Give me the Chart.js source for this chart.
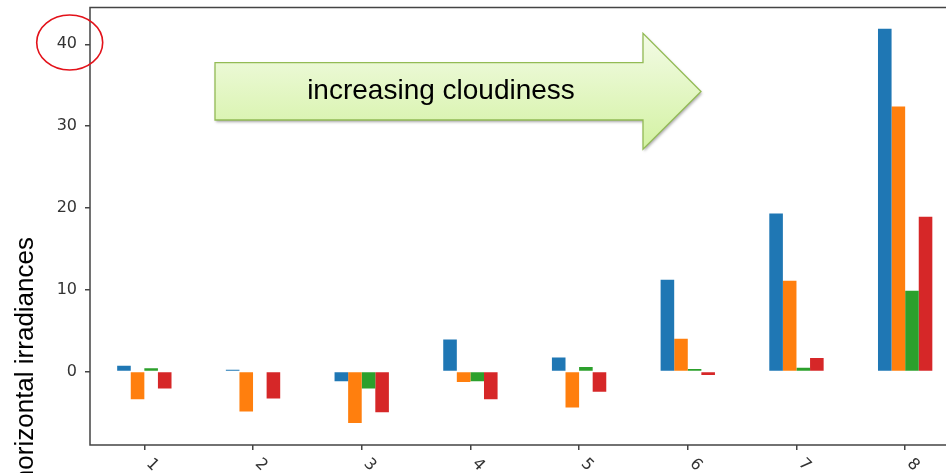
<!DOCTYPE html>
<html>
<head>
<meta charset="utf-8">
<script src="https://cdn.jsdelivr.net/npm/chart.js@4.4.1/dist/chart.umd.min.js"></script>
<style>
  html, body { margin: 0; padding: 0; background: #ffffff; overflow: hidden; }
  #wrap { width: 946px; height: 473px; overflow: hidden; position: relative; }
  canvas { display: block; }
</style>
</head>
<body>
<div id="wrap"><canvas id="chart" width="980" height="473"></canvas></div>
<script>
// Categories (cases 1..8) and the four series of differences
const categories = ['1', '2', '3', '4', '5', '6', '7', '8'];
const seriesBlue   = [0.7, 0.2, -1.2, 3.9, 1.7, 11.2, 19.3, 41.9];
const seriesOrange = [-3.4, -4.9, -6.3, -1.3, -4.4, 4.0, 11.1, 32.4];
const seriesGreen  = [0.4, 0.0, -2.1, -1.2, 0.55, 0.3, 0.45, 9.85];
const seriesRed    = [-2.1, -3.3, -5.0, -3.4, -2.5, -0.45, 1.65, 18.9];
const yTicks = [0, 10, 20, 30, 40];

const yTitle = 'horizontal irradiances';
const arrowText = 'increasing cloudiness';

const AXIS_COLOR = '#444444';
const TICK_FONT = { family: 'DejaVu Sans', size: 16 };

// Frame (left, top, bottom spines) plus the rotated x labels
const framePlugin = {
  id: 'frame',
  afterDraw(chart) {
    const { ctx, chartArea: a } = chart;
    ctx.save();
    ctx.strokeStyle = AXIS_COLOR;
    ctx.lineWidth = 1.5;
    ctx.beginPath();
    ctx.moveTo(a.right, a.top);
    ctx.lineTo(a.left, a.top);
    ctx.lineTo(a.left, a.bottom);
    ctx.lineTo(a.right, a.bottom);
    ctx.stroke();

    // x tick labels, turned 45 degrees clockwise
    const xs = chart.scales.x;
    ctx.fillStyle = '#333333';
    ctx.font = `${TICK_FONT.size}px ${TICK_FONT.family}`;
    ctx.textAlign = 'center';
    ctx.textBaseline = 'middle';
    categories.forEach((lab, i) => {
      const px = xs.getPixelForTick(i);
      ctx.save();
      ctx.translate(px + 8, a.bottom + 20);
      ctx.rotate(Math.PI / 4);
      ctx.fillText(lab, 0, 0);
      ctx.restore();
    });
    ctx.restore();
  }
};

// Annotations: y title, circled tick, and the cloudiness arrow
const annotationPlugin = {
  id: 'annotations',
  afterDraw(chart) {
    const { ctx } = chart;
    ctx.save();

    // y axis title
    ctx.save();
    ctx.translate(33, 237);
    ctx.rotate(-Math.PI / 2);
    ctx.font = '26px "Liberation Sans", Arial, sans-serif';
    ctx.fillStyle = '#000000';
    ctx.textAlign = 'left';
    ctx.textBaseline = 'alphabetic';
    ctx.fillText(yTitle, -ctx.measureText(yTitle).width, 0);
    ctx.restore();

    // red ellipse around the top tick label
    ctx.beginPath();
    ctx.ellipse(69.7, 42.5, 33, 27.5, 0, 0, Math.PI * 2);
    ctx.strokeStyle = '#e3121a';
    ctx.lineWidth = 1.6;
    ctx.stroke();

    // arrow shape
    const bodyL = 215, bodyT = 62.7, bodyB = 120;
    const headX = 643, headT = 33.3, headB = 149.3, tipX = 701, tipY = 91.5;
    ctx.beginPath();
    ctx.moveTo(bodyL, bodyT);
    ctx.lineTo(headX, bodyT);
    ctx.lineTo(headX, headT);
    ctx.lineTo(tipX, tipY);
    ctx.lineTo(headX, headB);
    ctx.lineTo(headX, bodyB);
    ctx.lineTo(bodyL, bodyB);
    ctx.closePath();
    const g = ctx.createLinearGradient(0, headT, 0, headB);
    g.addColorStop(0, '#f3fbe6');
    g.addColorStop(1, '#d3f2a2');
    ctx.save();
    ctx.shadowColor = 'rgba(0,0,0,0.35)';
    ctx.shadowBlur = 3;
    ctx.shadowOffsetX = 1;
    ctx.shadowOffsetY = 2;
    ctx.fillStyle = g;
    ctx.fill();
    ctx.restore();
    ctx.strokeStyle = '#93bb55';
    ctx.lineWidth = 1.3;
    ctx.stroke();

    ctx.font = '28px "Liberation Sans", Arial, sans-serif';
    ctx.fillStyle = '#000000';
    ctx.textAlign = 'center';
    ctx.textBaseline = 'middle';
    ctx.fillText(arrowText, 441, 91);

    ctx.restore();
  }
};

const ctx = document.getElementById('chart').getContext('2d');
new Chart(ctx, {
  type: 'bar',
  data: {
    labels: categories,
    datasets: [
      { label: 'blue',   data: seriesBlue,   backgroundColor: '#1f77b4' },
      { label: 'orange', data: seriesOrange, backgroundColor: '#ff7f0e' },
      { label: 'green',  data: seriesGreen,  backgroundColor: '#2ca02c' },
      { label: 'red',    data: seriesRed,    backgroundColor: '#d62728' }
    ]
  },
  options: {
    responsive: false,
    animation: false,
    devicePixelRatio: 1,
    layout: { padding: { top: 7.5, left: 0, right: 20.5, bottom: 0 } },
    plugins: { legend: { display: false }, tooltip: { enabled: false } },
    datasets: { bar: { categoryPercentage: 0.5, barPercentage: 1.0, borderWidth: 0 } },
    scales: {
      x: {
        offset: true,
        grid: { display: true, offset: false, drawOnChartArea: false, drawTicks: true, tickLength: 5, color: AXIS_COLOR, lineWidth: 1.5 },
        border: { display: false },
        ticks: { display: false },
        afterFit(scale) {
          scale.height = 28;
          scale.paddingLeft = 0; scale.paddingRight = 0;
        }
      },
      y: {
        min: -9.0,
        max: 44.5,
        grid: { display: true, drawOnChartArea: false, drawTicks: true, tickLength: 5, color: AXIS_COLOR, lineWidth: 1.5 },
        border: { display: false },
        ticks: { color: '#333333', font: TICK_FONT, padding: 8 },
        afterBuildTicks(scale) { scale.ticks = yTicks.map(v => ({ value: v })); },
        afterFit(scale) {
          scale.width = 90;
          scale.paddingTop = 0; scale.paddingBottom = 0;
        }
      }
    }
  },
  plugins: [framePlugin, annotationPlugin]
});
</script>
</body>
</html>
